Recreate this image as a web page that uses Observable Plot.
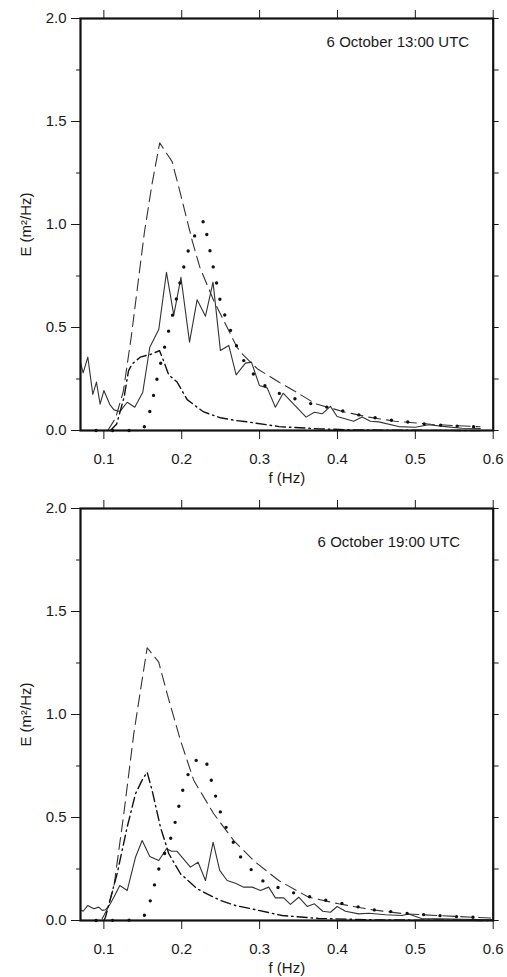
<!DOCTYPE html>
<html>
<head>
<meta charset="utf-8">
<script src="https://cdn.jsdelivr.net/npm/d3@7"></script>
<script src="https://cdn.jsdelivr.net/npm/@observablehq/plot@0.6"></script>
<style>
  html, body { margin: 0; padding: 0; background: #fff; }
  #chart svg { display: block; }
</style>
</head>
<body>
<div id="chart"></div>
<script>
// ---- tick values ----
const xTicks = [0.1, 0.2, 0.3, 0.4, 0.5, 0.6];
const yMajor = [0, 0.5, 1.0, 1.5, 2.0];
const yMinor = [0.25, 0.75, 1.25, 1.75];
const yAll = [0, 0.25, 0.5, 0.75, 1.0, 1.25, 1.5, 1.75, 2.0];

// ---- panel titles / labels ----
const titleTop = "6 October 13:00 UTC";
const titleBottom = "6 October 19:00 UTC";
const xLabel = "f (Hz)";
const yLabel = "E (m²/Hz)";

// ---- 6 October 13:00 UTC: [f (Hz), E (m²/Hz)] ----
const obs13 = [[0.07,0.33],[0.0734,0.28],[0.0794,0.356],[0.0858,0.175],[0.0905,0.235],[0.0952,0.128],[0.1,0.194],[0.1077,0.126],[0.113,0.1],[0.1205,0.092],[0.13,0.137],[0.1397,0.113],[0.15,0.186],[0.159,0.404],[0.1705,0.49],[0.1804,0.768],[0.1898,0.56],[0.199,0.744],[0.21,0.429],[0.2198,0.635],[0.2305,0.555],[0.2402,0.72],[0.2497,0.388],[0.2604,0.413],[0.2699,0.27],[0.2818,0.327],[0.2895,0.332],[0.2998,0.218],[0.3097,0.207],[0.3203,0.113],[0.3302,0.181],[0.3597,0.065],[0.3704,0.089],[0.3803,0.081],[0.391,0.117],[0.3995,0.068],[0.4208,0.045],[0.4316,0.065],[0.4423,0.045],[0.453,0.042],[0.4786,0.019],[0.5,0.016],[0.5171,0.028],[0.5386,0.019],[0.56,0.011],[0.5835,0.01]];
const dashed13 = [[0.105,0],[0.115,0.06],[0.125,0.19],[0.135,0.45],[0.145,0.75],[0.152,0.96],[0.162,1.2],[0.1717,1.396],[0.1877,1.305],[0.199,1.14],[0.2134,0.922],[0.2232,0.793],[0.241,0.631],[0.2583,0.501],[0.271,0.404],[0.2776,0.372],[0.297,0.3],[0.3246,0.235],[0.35,0.18],[0.3717,0.13],[0.41,0.089],[0.44,0.065],[0.474,0.045],[0.52,0.03],[0.55,0.024],[0.583,0.018]];
const dotted13 = [[0.09,0],[0.14,0],[0.15,0.008],[0.1556,0.037],[0.165,0.19],[0.1693,0.27],[0.1796,0.429],[0.1898,0.584],[0.1993,0.744],[0.2044,0.82],[0.2103,0.898],[0.2198,0.969],[0.2288,1.021],[0.2326,0.943],[0.2411,0.781],[0.2497,0.625],[0.2565,0.547],[0.2642,0.471],[0.2719,0.396],[0.2818,0.324],[0.2946,0.262],[0.3097,0.207],[0.33,0.172],[0.35,0.149],[0.3695,0.126],[0.391,0.11],[0.4123,0.089],[0.433,0.071],[0.4545,0.058],[0.475,0.047],[0.4958,0.039],[0.517,0.029],[0.538,0.025],[0.5595,0.02],[0.5813,0.018]];
const dashdot13 = [[0.1085,0],[0.1165,0.032],[0.126,0.162],[0.1317,0.291],[0.1367,0.324],[0.1467,0.356],[0.162,0.372],[0.1714,0.388],[0.1757,0.348],[0.1833,0.27],[0.1941,0.235],[0.207,0.15],[0.2198,0.113],[0.2283,0.09],[0.241,0.073],[0.2497,0.062],[0.2668,0.05],[0.284,0.042],[0.325,0.019],[0.376,0.008],[0.42,0.003],[0.5,0.001],[0.583,0]];

// ---- 6 October 19:00 UTC ----
const obs19 = [[0.07,0.052],[0.0734,0.045],[0.0794,0.073],[0.087,0.057],[0.0935,0.065],[0.0978,0.049],[0.102,0.052],[0.107,0.073],[0.1128,0.113],[0.1205,0.17],[0.13,0.146],[0.1406,0.307],[0.1492,0.388],[0.159,0.311],[0.1705,0.291],[0.1804,0.348],[0.187,0.336],[0.194,0.336],[0.2112,0.259],[0.221,0.283],[0.2305,0.194],[0.2403,0.38],[0.2488,0.243],[0.2583,0.194],[0.269,0.181],[0.2797,0.162],[0.2905,0.162],[0.3012,0.146],[0.3117,0.162],[0.3203,0.11],[0.331,0.11],[0.3396,0.078],[0.3503,0.113],[0.3611,0.068],[0.3704,0.081],[0.3811,0.045],[0.391,0.04],[0.3996,0.068],[0.4102,0.045],[0.4273,0.032],[0.4402,0.035],[0.4616,0.028],[0.483,0.024],[0.4915,0.032],[0.5086,0.008],[0.53,0.008],[0.56,0.006],[0.6,0.003]];
const dashed19 = [[0.0978,0.008],[0.105,0.06],[0.1128,0.162],[0.1256,0.518],[0.1384,0.906],[0.149,1.165],[0.1556,1.324],[0.1705,1.254],[0.1813,1.1],[0.1984,0.874],[0.2155,0.68],[0.2411,0.518],[0.2668,0.388],[0.2947,0.283],[0.3246,0.194],[0.363,0.113],[0.4016,0.081],[0.4445,0.052],[0.4872,0.032],[0.53,0.024],[0.573,0.016],[0.6,0.012]];
const dotted19 = [[0.09,0],[0.14,0.002],[0.1556,0.032],[0.1607,0.113],[0.1663,0.191],[0.1718,0.267],[0.18,0.343],[0.1877,0.417],[0.1928,0.497],[0.1975,0.574],[0.2026,0.652],[0.2103,0.731],[0.2219,0.796],[0.2313,0.773],[0.2369,0.696],[0.2424,0.618],[0.2484,0.54],[0.2552,0.466],[0.2647,0.393],[0.2732,0.32],[0.287,0.256],[0.301,0.198],[0.32,0.165],[0.3408,0.137],[0.3618,0.117],[0.3823,0.1],[0.4038,0.084],[0.4243,0.068],[0.4458,0.052],[0.4667,0.044],[0.488,0.035],[0.5094,0.029],[0.53,0.024],[0.552,0.019],[0.573,0.016],[0.594,0.016]];
const dashdot19 = [[0.1,0],[0.102,0.016],[0.117,0.227],[0.1299,0.453],[0.1406,0.615],[0.149,0.68],[0.1556,0.72],[0.162,0.631],[0.1727,0.453],[0.1834,0.324],[0.1984,0.227],[0.2198,0.154],[0.2497,0.097],[0.269,0.073],[0.288,0.058],[0.329,0.024],[0.376,0.01],[0.45,0.003],[0.6,0]];

const FONT = "'Liberation Sans', Arial, Helvetica, sans-serif";

function panel({height, marginTop, marginBottom, title, titleDx, titleDy, obs, dashed, dotted, dashdot}) {
  const X = d => d[0], Y = d => d[1];
  return Plot.plot({
    width: 507,
    height,
    marginLeft: 80,
    marginRight: 14.3,
    marginTop,
    marginBottom,
    x: {domain: [0.07, 0.6]},
    y: {domain: [0, 2]},
    style: {fontFamily: FONT, fontSize: "15px", color: "#1a1a1a", background: "#fff", overflow: "visible"},
    marks: [
      Plot.line(obs, {x: X, y: Y, stroke: "#333", strokeWidth: 1.1}),
      Plot.line(dashed, {x: X, y: Y, stroke: "#333", strokeWidth: 1.1, strokeDasharray: "12 6"}),
      Plot.line(dashdot, {x: X, y: Y, stroke: "#111", strokeWidth: 1.4, strokeDasharray: "10 4 1.5 4"}),
      Plot.line(dotted, {x: X, y: Y, stroke: "#111", strokeWidth: 3.4, strokeDasharray: "0 16.5", strokeLinecap: "round"}),
      Plot.axisX({anchor: "bottom", ticks: xTicks, tickSize: 9, tickPadding: 14, tickFormat: ".1f", label: null, fontSize: 15, strokeWidth: 1}),
      Plot.axisX({anchor: "top", ticks: xTicks, tickSize: 9, tickFormat: () => "", label: null, strokeWidth: 1}),
      Plot.axisY({anchor: "left", ticks: yMajor, tickSize: 9, tickPadding: 5, tickFormat: ".1f", label: null, fontSize: 15, strokeWidth: 1}),
      Plot.axisY({anchor: "left", ticks: yMinor, tickSize: 4, tickFormat: () => "", label: null, strokeWidth: 1}),
      Plot.axisY({anchor: "right", ticks: yAll, tickSize: 5, tickFormat: () => "", label: null, strokeWidth: 1}),
      Plot.frame({stroke: "#111", strokeWidth: 2.2}),
      Plot.text([title], {text: d => d, frameAnchor: "top-right", dx: titleDx, dy: titleDy, textAnchor: "end", lineAnchor: "middle", fontSize: 15, fill: "#1a1a1a"}),
      Plot.text([yLabel], {text: d => d, frameAnchor: "left", rotate: -90, dx: -54, textAnchor: "middle", lineAnchor: "middle", fontSize: 15, fill: "#1a1a1a"}),
      Plot.text([xLabel], {text: d => d, frameAnchor: "bottom", dy: 42, lineAnchor: "top", fontSize: 15, fill: "#1a1a1a"})
    ]
  });
}

const root = document.getElementById("chart");
root.appendChild(panel({height: 490, marginTop: 18, marginBottom: 60, title: titleTop, titleDx: -24, titleDy: 24, obs: obs13, dashed: dashed13, dotted: dotted13, dashdot: dashdot13}));
root.appendChild(panel({height: 487, marginTop: 18, marginBottom: 57, title: titleBottom, titleDx: -33, titleDy: 34, obs: obs19, dashed: dashed19, dotted: dotted19, dashdot: dashdot19}));
</script>
</body>
</html>
